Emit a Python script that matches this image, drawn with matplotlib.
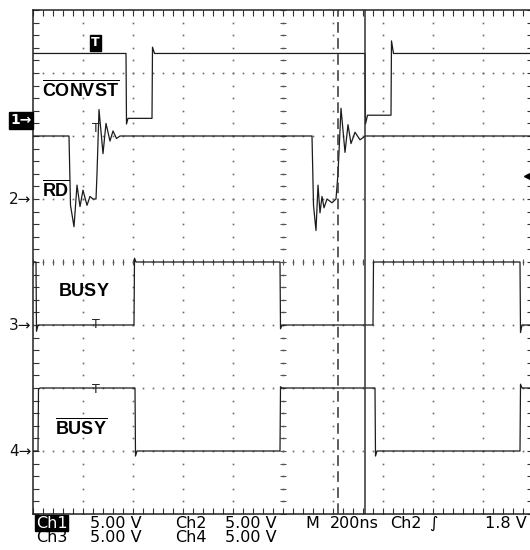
import numpy as np
import matplotlib
matplotlib.use('Agg')
import matplotlib.pyplot as plt

plt.rcParams['font.family'] = ['DejaVu Sans']
plt.rcParams['mathtext.fontset'] = 'custom'
plt.rcParams['mathtext.bf'] = 'Liberation Sans:bold'
plt.rcParams['mathtext.rm'] = 'Liberation Sans'

# --- DATA (time in ns, 200 ns/div; level in V, 5 V/div) ---
t_convst = [0, 372, 374, 380, 476, 478, 486, 1328, 1330, 1338, 1432, 1434, 1442, 2000]
v_convst = [5.3, 5.3, -0.3, 0.15, 0.15, 5.8, 5.3, 5.3, -0.3, 0.4, 0.4, 6.3, 5.3, 5.3]

t_rd = [0, 144, 150, 164, 176, 188, 200, 216, 228, 240, 252, 256, 264, 280, 292, 308, 320, 334, 348,
        1116, 1122, 1132, 1140, 1148, 1156, 1164, 1176, 1196, 1212, 1220, 1232, 1248, 1260, 1272, 1288,
        1308, 1330, 2000]
v_rd = [5.0, 5.0, -0.5, -2.2, 1.1, -0.6, 0.7, -0.5, 0.2, 0.0, 0.0, 2.0, 7.1, 3.6, 6.0, 4.6, 5.4, 4.8, 5.0,
        5.0, -0.5, -2.5, 1.1, -1.1, 0.2, -0.7, 0.0, -0.3, 0.0, 2.0, 7.2, 3.7, 5.9, 4.4, 5.3,
        4.7, 5.0, 5.0]

t_busy = [0, 12, 14, 20, 404, 406, 412, 988, 990, 996, 1360, 1362, 1368, 1948, 1950, 1956, 2000]
v_busy = [5.0, 5.0, -0.5, 0.0, 0.0, 5.3, 5.0, 5.0, -0.3, 0.0, 0.0, 5.0, 5.0, 5.0, -0.6, 0.0, 0.0]

t_busyn = [0, 20, 22, 28, 408, 410, 416, 988, 990, 996, 1368, 1370, 1376, 1948, 1950, 1956, 2000]
v_busyn = [0.0, 0.0, 4.9, 5.0, 5.0, -0.4, 0.0, 0.0, 5.1, 5.0, 5.0, -0.4, 0.0, 0.0, 5.3, 5.0, 5.0]

ch_offsets = [6.25, 5.0, 3.0, 1.0]    # ground marker of each channel, div
volts_per_div = 5.0
trig_time = 256
trig_level = 1.8
cursor_dashed = 1220
cursor_solid = 1328

traces = [(t_convst, v_convst), (t_rd, v_rd), (t_busy, v_busy), (t_busyn, v_busyn)]

fig = plt.figure(figsize=(5.3, 5.5), dpi=100)
ax = fig.add_axes([33 / 530, 36 / 550, 500 / 530, 504 / 550])
ax.set_xlim(0, 2000)
ax.set_ylim(0, 8)

# graticule
gcol = '#6a6a6a'
ydots = np.arange(0, 8.01, 0.2)
xdots = np.arange(0, 2000.1, 40)
for k in range(1, 10):
    ax.plot(np.full(len(ydots), k * 200), ydots, ls='none', marker='s', ms=1.2, color=gcol, mew=0)
for k in range(1, 8):
    ax.plot(xdots, np.full(len(xdots), k), ls='none', marker='s', ms=1.2, color=gcol, mew=0)
ax.plot(np.full(len(ydots), 1000), ydots, ls='none', marker='_', ms=5, color='#555', mew=0.8)
ax.plot(xdots, np.full(len(xdots), 4), ls='none', marker='|', ms=5, color='#555', mew=0.8)

ax.set_xticks(np.arange(0, 2001, 200))
ax.set_xticks(xdots, minor=True)
ax.set_yticks(np.arange(0, 9, 1))
ax.set_yticks(ydots, minor=True)
ax.tick_params(which='both', direction='in', length=4, width=0.8, color='#333',
               top=True, right=True, labelbottom=False, labelleft=False)
for s in ['left', 'top', 'bottom', 'right']:
    ax.spines[s].set_linewidth(1.1)
    ax.spines[s].set_color('#222')

# traces
for (t, v), off in zip(traces, ch_offsets):
    y = off + np.array(v) / volts_per_div
    ax.plot(t, y, color='#1c1c1c', lw=0.9)

# cursors
ax.axvline(cursor_dashed, color='#333', lw=1.1, ls=(0, (7, 3.5)))
ax.axvline(cursor_solid, color='#333', lw=1.1)

# trigger markers
ax.text(trig_time - 6, 7.48, 'T', color='white', fontsize=9, fontweight='bold', ha='center', va='center',
        bbox=dict(boxstyle='square,pad=0.12', fc='black', ec='black'))
for off in [ch_offsets[0], ch_offsets[2] + 0.13, ch_offsets[3] + 1.1]:
    ax.text(trig_time - 4, off - 0.02, 'T', fontsize=9, ha='center', va='top', color='#222')
ax.plot([1980], [ch_offsets[1] + trig_level / volts_per_div], marker='<', ms=6, color='black', clip_on=False)
ax.plot([1980, 1996], [ch_offsets[1] + trig_level / volts_per_div] * 2, color='black', lw=1.2)

# channel ground markers
yax = ax.get_yaxis_transform()
ax.text(-0.003, ch_offsets[0], '1→', transform=yax, ha='right', va='center', fontsize=10,
        color='white', fontweight='bold',
        bbox=dict(boxstyle='square,pad=0.1', fc='black', ec='black'))
for i, off in enumerate(ch_offsets[1:], start=2):
    ax.text(-0.003, off, f'{i}→', transform=yax, ha='right', va='center', fontsize=11, color='#111')

# signal labels
ax.text(36, 6.73, r'$\overline{\mathbf{CONVST}}$', fontsize=13, va='center', ha='left')
ax.text(36, 5.14, r'$\overline{\mathbf{RD}}$', fontsize=13, va='center', ha='left')
ax.text(100, 3.54, r'$\mathbf{BUSY}$', fontsize=13, va='center', ha='left')
ax.text(88, 1.37, r'$\overline{\mathbf{BUSY}}$', fontsize=13, va='center', ha='left')

# readout
def fx(x):
    return x / 530

def fy(y):
    return 1 - y / 550

fs = 11.5
fig.text(fx(36), fy(523), 'Ch1', fontsize=fs, va='center', color='white',
         bbox=dict(boxstyle='square,pad=0.05', fc='black', ec='black'))
fig.text(fx(90), fy(523), '5.00 V', fontsize=fs, va='center')
fig.text(fx(175), fy(523), 'Ch2', fontsize=fs, va='center')
fig.text(fx(225), fy(523), '5.00 V', fontsize=fs, va='center')
fig.text(fx(305), fy(523), 'M', fontsize=fs, va='center')
fig.text(fx(330), fy(523), '200ns', fontsize=fs, va='center')
fig.text(fx(390), fy(523), 'Ch2', fontsize=fs, va='center')
fig.text(fx(429), fy(523), '∫', fontsize=fs, va='center')
fig.text(fx(485), fy(523), '1.8 V', fontsize=fs, va='center')
fig.text(fx(36), fy(538), 'Ch3', fontsize=fs, va='center')
fig.text(fx(90), fy(538), '5.00 V', fontsize=fs, va='center')
fig.text(fx(175), fy(538), 'Ch4', fontsize=fs, va='center')
fig.text(fx(225), fy(538), '5.00 V', fontsize=fs, va='center')

fig.savefig('out.png', dpi=100, facecolor='white')
